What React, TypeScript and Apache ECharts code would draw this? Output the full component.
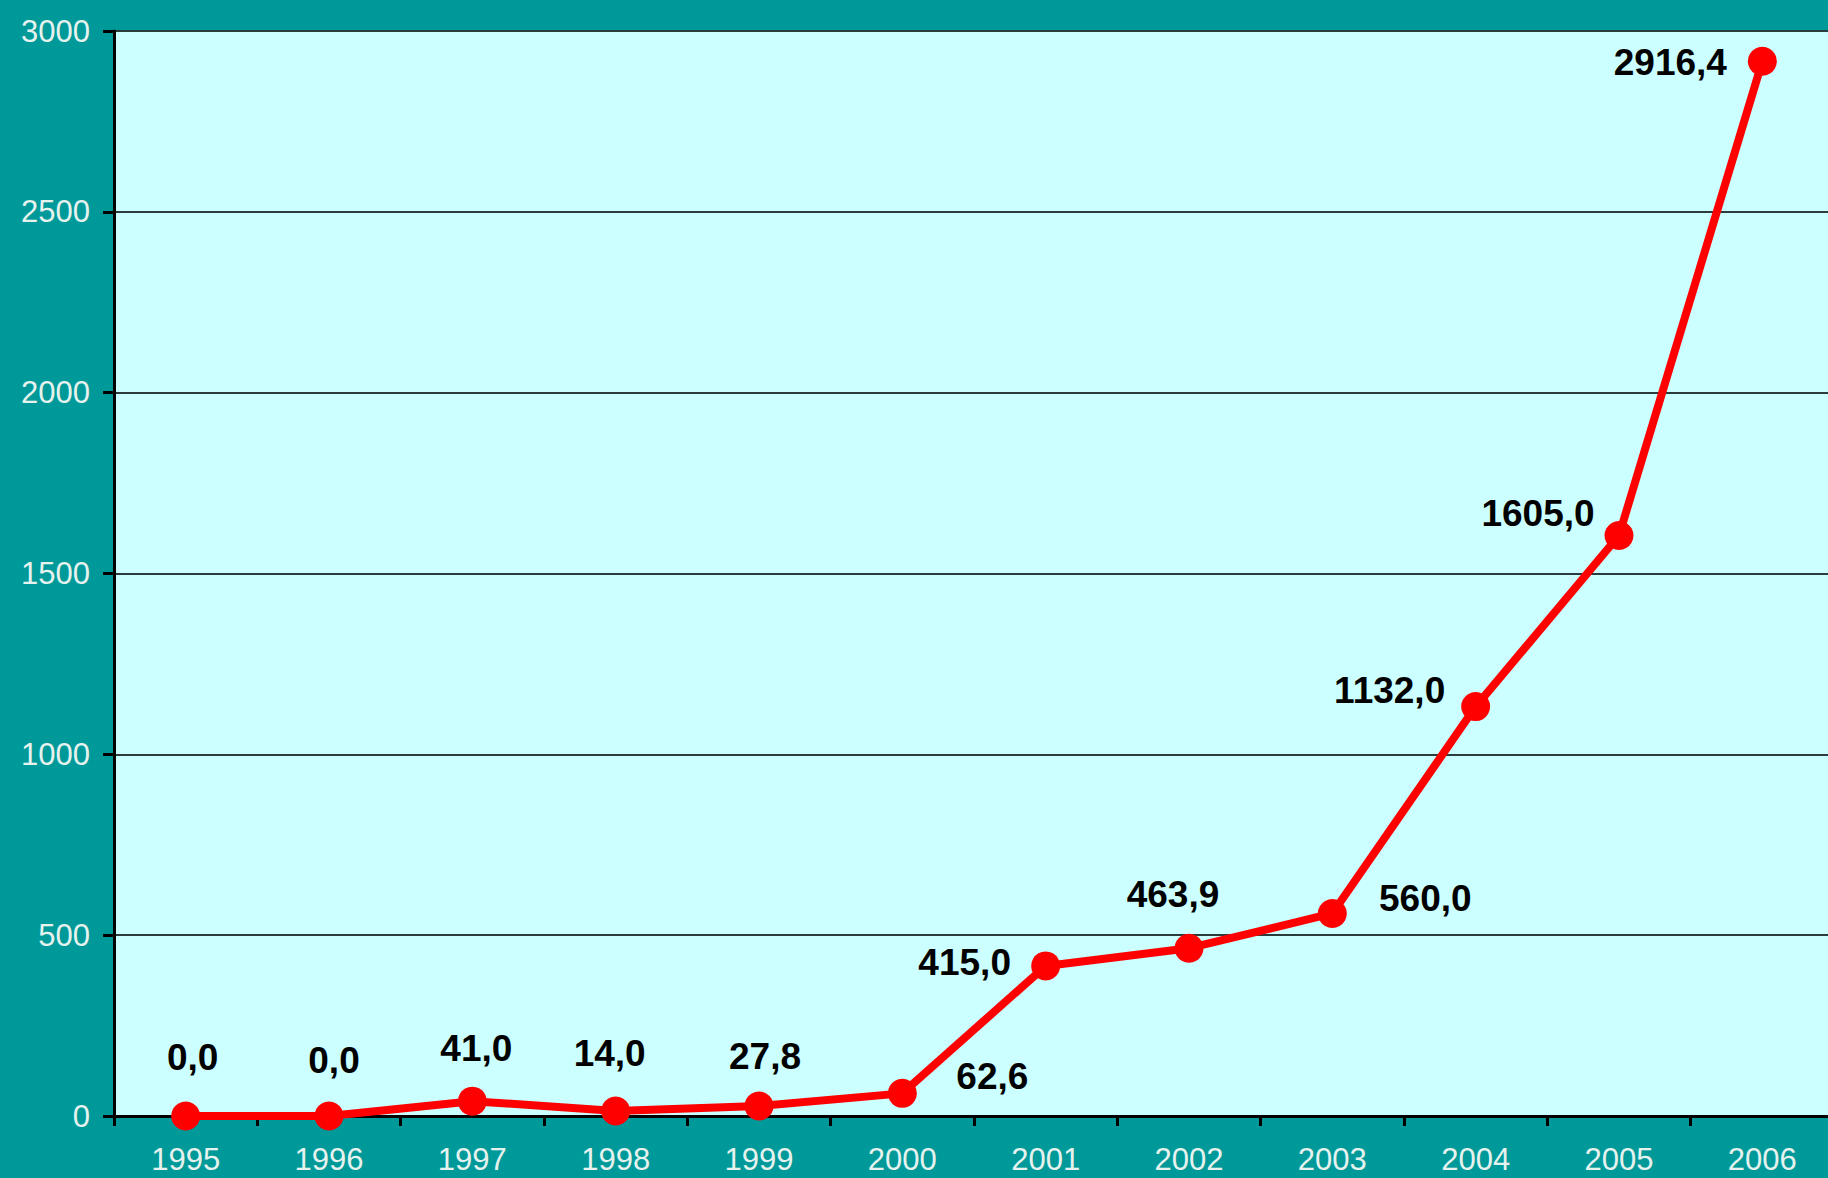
import React, { useEffect, useRef } from "react";
import * as echarts from "echarts";

const years = ["1995", "1996", "1997", "1998", "1999", "2000", "2001", "2002", "2003", "2004", "2005", "2006"];
const values = [0, 0, 41, 14, 27.8, 62.6, 415, 463.9, 560, 1132, 1605, 2916.4];
const yTicks = { min: 0, max: 3000, interval: 500 };

// label placement relative to each point (pixels)
const labelOffsets: [number, number][] = [
  [7, -59], [5, -56], [4, -53], [-6, -57], [6, -49], [90, -17],
  [-81, -3], [-16, -54], [93, -15], [-86, -16], [-81, -22], [-92, 1],
];

const fmt = (v: number) => v.toFixed(1).replace(".", ",");

export default function App() {
  const ref = useRef<HTMLDivElement>(null);
  useEffect(() => {
    if (!ref.current) return;
    const chart = echarts.init(ref.current, null, { renderer: "svg" });
    chart.setOption({
      animation: false,
      backgroundColor: "#009999",
      grid: {
        left: 114,
        right: 6,
        top: 31,
        bottom: 62,
        show: true,
        backgroundColor: "#CCFFFF",
        borderWidth: 0,
      },
      xAxis: {
        type: "category",
        data: years,
        boundaryGap: true,
        axisLine: { show: true, lineStyle: { color: "#000", width: 3 } },
        axisTick: { show: true, alignWithLabel: false, length: 10, lineStyle: { color: "#000", width: 3 } },
        axisLabel: {
          color: "#e6f2ee",
          fontFamily: "Liberation Sans, Arial, sans-serif",
          fontSize: 31,
          margin: 28,
        },
        splitLine: { show: false },
      },
      yAxis: {
        type: "value",
        min: yTicks.min,
        max: yTicks.max,
        interval: yTicks.interval,
        axisLine: { show: true, lineStyle: { color: "#000", width: 3 } },
        axisTick: { show: true, length: 11, lineStyle: { color: "#000", width: 3 } },
        axisLabel: {
          color: "#e6f2ee",
          fontFamily: "Liberation Sans, Arial, sans-serif",
          fontSize: 31,
          margin: 24,
          formatter: (v: number) => String(v),
        },
        splitLine: { show: true, lineStyle: { color: "#2a3c3c", width: 2 } },
      },
      series: [
        {
          type: "line",
          data: values.map((v, i) => ({
            value: v,
            label: { offset: labelOffsets[i] },
          })),
          symbol: "circle",
          symbolSize: 29,
          lineStyle: { color: "#FF0000", width: 8 },
          itemStyle: { color: "#FF0000" },
          label: {
            show: true,
            position: "inside",
            formatter: (p: any) => fmt(p.value),
            color: "#000",
            fontWeight: "bold",
            fontFamily: "Liberation Sans, Arial, sans-serif",
            fontSize: 37,
          },
          z: 5,
        },
      ],
    });
    return () => chart.dispose();
  }, []);
  return (
    <div
      ref={ref}
      style={{ position: "fixed", left: 0, top: 0, width: 1840, height: 1178 }}
    />
  );
}
